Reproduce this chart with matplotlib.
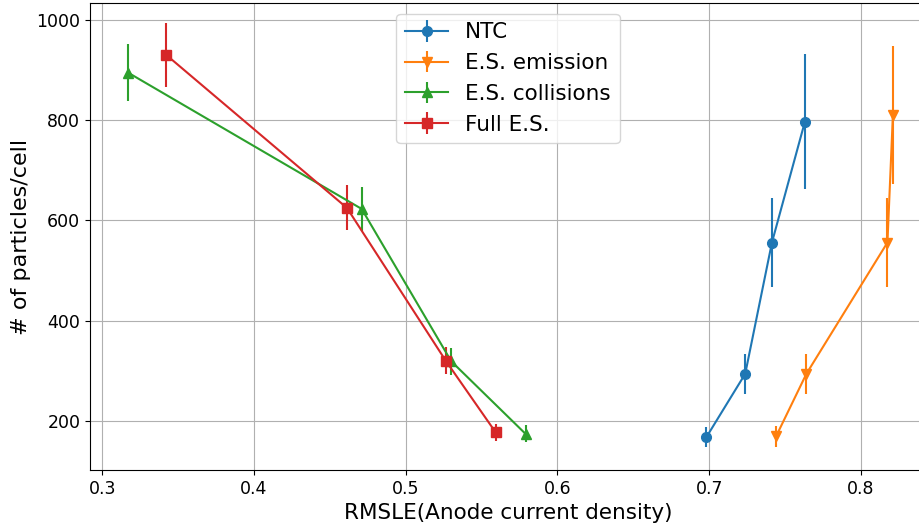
import matplotlib
matplotlib.use('Agg')
import matplotlib.pyplot as plt

# RMSLE values and particle counts
ntc_x = [0.698, 0.7237, 0.7413, 0.763]
ntc_y = [167, 294, 556, 797]
ntc_err = [20, 40, 88, 135]

emi_x = [0.744, 0.764, 0.8174, 0.821]
emi_y = [169, 294, 556, 811]
emi_err = [21, 40, 88, 138]

col_x = [0.3171, 0.471, 0.530, 0.579]
col_y = [895, 623, 319, 174]
col_err = [57, 44, 27, 17]

full_x = [0.3424, 0.4613, 0.5264, 0.5593]
full_y = [930, 625, 320, 177]
full_err = [64, 45, 27, 17]

fig = plt.figure(figsize=(9.2, 5.25), dpi=100)
# axes run a little past the right edge, like the cropped original
ax = fig.add_axes([90 / 920, 55 / 525, 836 / 920, 467 / 525])

ax.errorbar(ntc_x, ntc_y, yerr=ntc_err, marker='o', color='tab:blue', label='NTC', markersize=7)
ax.errorbar(emi_x, emi_y, yerr=emi_err, marker='v', color='tab:orange', label='E.S. emission', markersize=7)
ax.errorbar(col_x, col_y, yerr=col_err, marker='^', color='tab:green', label='E.S. collisions', markersize=7)
ax.errorbar(full_x, full_y, yerr=full_err, marker='s', color='tab:red', label='Full E.S.', markersize=7)

ax.set_xlim(0.292, 0.8428)
ax.set_ylim(102, 1034)
ax.set_xticks([0.3, 0.4, 0.5, 0.6, 0.7, 0.8])
ax.set_yticks([200, 400, 600, 800, 1000])
ax.tick_params(labelsize=12.5)
ax.set_xlabel('RMSLE(Anode current density)', fontsize=15.5)
ax.set_ylabel('# of particles/cell', fontsize=16)
ax.grid(True)
ax.legend(loc='upper center', fontsize=15.5)

fig.savefig('out.png', dpi=100)
